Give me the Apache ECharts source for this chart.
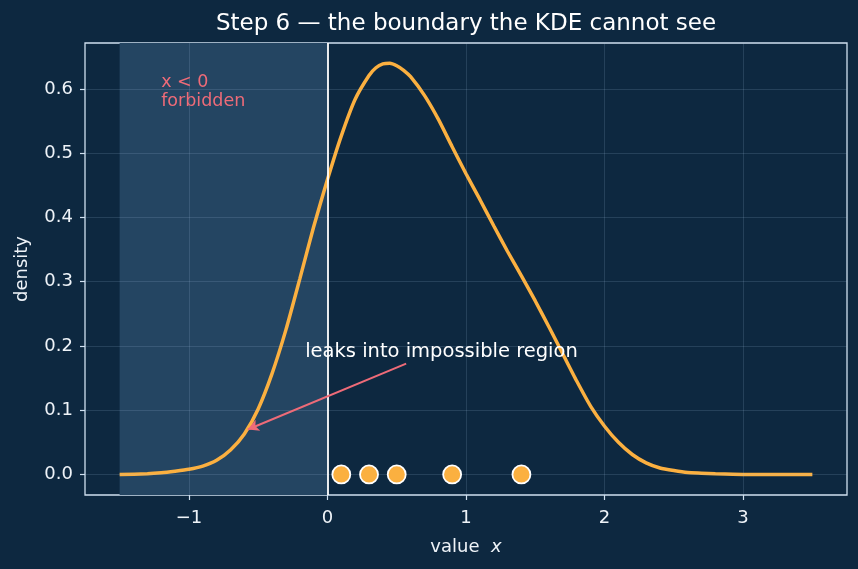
<!DOCTYPE html>
<html>
<head>
<meta charset="utf-8">
<script src="https://cdn.jsdelivr.net/npm/echarts@6/dist/echarts.min.js"></script>
<style>
  html, body { margin: 0; padding: 0; background: #0d2840; }
  #chart { width: 858px; height: 569px; }
</style>
</head>
<body>
<div id="chart"></div>
<script>
// KDE curve
const kdeX = [-1.5, -1.3, -1.2, -1.1, -1.0, -0.9, -0.8, -0.7, -0.6, -0.5, -0.4, -0.3, -0.2, -0.1,
  0.0, 0.1, 0.2, 0.3, 0.35, 0.4, 0.45, 0.5, 0.55, 0.6, 0.7, 0.8, 0.9, 1.0, 1.1, 1.2, 1.3, 1.4, 1.5, 1.6, 1.7,
  1.8, 1.9, 2.0, 2.1, 2.2, 2.3, 2.4, 2.5, 2.6, 2.7, 2.8, 3.0, 3.5]
const kdeY = [0.000, 0.001, 0.0025, 0.005, 0.008, 0.013, 0.022, 0.038, 0.063, 0.102, 0.157, 0.225, 0.304, 0.385,
  0.459, 0.527, 0.584, 0.621, 0.633, 0.639, 0.640, 0.636, 0.629, 0.619, 0.590, 0.553, 0.510, 0.468, 0.428, 0.387, 0.347, 0.309, 0.270, 0.229, 0.187,
  0.145, 0.106, 0.075, 0.050, 0.031, 0.018, 0.010, 0.006, 0.003, 0.002, 0.001, 0.000, 0.000]

const samples = [0.1, 0.3, 0.5, 0.9, 1.4]

const xTicks = [-1, 0, 1, 2, 3]
const yTicks = [0, 0.1, 0.2, 0.3, 0.4, 0.5, 0.6]

const forbiddenRange = [-1.5, 0]
const boundaryX = 0

const arrowFrom = [0.568, 0.1725]
const arrowTo = [-0.575, 0.07]
const leakLabelAt = [0.823, 0.191]
const forbiddenLabelAt = [-1.2, 0.596]

const FONT = 'DejaVu Sans, sans-serif'
const ORANGE = '#fbb040'
const SALMON = '#ee6b78'
const TEXT = '#eef3f8'
const FRAME = '#cfe0f0'
const GRID = 'rgba(170,200,230,0.16)'

const chart = echarts.init(document.getElementById('chart'), null, { renderer: 'canvas' })

const fmtMinus = (v) => String(v).replace('-', '\u2212')

const option = {
  animation: false,
  backgroundColor: '#0d2840',
  textStyle: { fontFamily: FONT },
  grid: {
    left: 85,
    right: 11,
    top: 43,
    bottom: 74,
    show: true,
    borderColor: FRAME,
    borderWidth: 1.3,
    backgroundColor: 'transparent',
  },
  graphic: [
    {
      type: 'text',
      x: 466,
      y: 24,
      style: {
        text: 'Step 6 \u2014 the boundary the KDE cannot see',
        fill: '#ffffff',
        font: '23px ' + FONT,
        align: 'center',
        verticalAlign: 'middle',
      },
    },
  ],
  xAxis: {
    type: 'value',
    min: -1.75,
    max: 3.75,
    name: '{a|value  }{b|x}',
    nameLocation: 'middle',
    nameGap: 43,
    nameTextStyle: {
      color: TEXT,
      rich: {
        a: { color: TEXT, fontSize: 18, fontFamily: FONT },
        b: { color: TEXT, fontSize: 18, fontFamily: FONT, fontStyle: 'italic' },
      },
    },
    axisLine: { show: false, onZero: false },
    axisTick: {
      show: true,
      length: 5,
      customValues: xTicks,
      lineStyle: { color: FRAME, width: 1.2 },
    },
    axisLabel: {
      customValues: xTicks,
      formatter: (v) => fmtMinus(v),
      color: TEXT,
      fontSize: 18,
      fontFamily: FONT,
      margin: 14,
    },
    splitLine: { show: false },
  },
  yAxis: {
    type: 'value',
    min: -0.032,
    max: 0.6715,
    name: 'density',
    nameLocation: 'middle',
    nameGap: 54,
    nameTextStyle: { color: TEXT, fontSize: 18, fontFamily: FONT },
    axisLine: { show: false, onZero: false },
    axisTick: {
      show: true,
      length: 5,
      customValues: yTicks,
      lineStyle: { color: FRAME, width: 1.2 },
    },
    axisLabel: {
      customValues: yTicks,
      formatter: (v) => v.toFixed(1),
      color: TEXT,
      fontSize: 18,
      fontFamily: FONT,
      margin: 12,
    },
    splitLine: { show: false },
  },
  series: [
    {
      // background layer: forbidden region and grid lines
      type: 'line',
      data: [],
      silent: true,
      z: 1,
      markArea: {
        silent: true,
        itemStyle: { color: '#244562' },
        data: [[{ xAxis: forbiddenRange[0] }, { xAxis: forbiddenRange[1] }]],
      },
      markLine: {
        silent: true,
        symbol: ['none', 'none'],
        label: { show: false },
        lineStyle: { color: GRID, width: 1, type: 'solid' },
        data: [
          ...xTicks.map((v) => ({ xAxis: v })),
          ...yTicks.map((v) => ({ yAxis: v })),
        ],
      },
    },
    {
      // boundary at x = 0
      type: 'line',
      data: [],
      silent: true,
      z: 3,
      markLine: {
        silent: true,
        symbol: ['none', 'none'],
        label: { show: false },
        lineStyle: { color: '#ffffff', width: 1.8, type: 'solid' },
        data: [{ xAxis: boundaryX }],
      },
    },
    {
      name: 'KDE',
      type: 'line',
      z: 4,
      data: kdeX.map((x, i) => [x, kdeY[i]]),
      showSymbol: false,
      smooth: 0.2,
      lineStyle: { color: ORANGE, width: 3.5 },
    },
    {
      name: 'samples',
      type: 'scatter',
      z: 5,
      data: samples.map((x) => [x, 0]),
      symbolSize: 18,
      itemStyle: { color: ORANGE, opacity: 1, borderColor: '#ffffff', borderWidth: 1.8 },
    },
    {
      // annotations
      type: 'line',
      data: [],
      silent: true,
      z: 6,
      markLine: {
        silent: true,
        symbol: ['none', 'arrow'],
        symbolSize: [9, 11],
        label: { show: false },
        lineStyle: { color: SALMON, width: 2, type: 'solid' },
        data: [[{ coord: arrowFrom }, { coord: arrowTo }]],
      },
      markPoint: {
        silent: true,
        symbol: 'circle',
        symbolSize: 0,
        data: [
          {
            coord: leakLabelAt,
            label: {
              show: true,
              position: [0, 0],
              align: 'center',
              verticalAlign: 'middle',
              formatter: 'leaks into impossible region',
              color: '#ffffff',
              fontSize: 19.5,
              fontFamily: FONT,
            },
          },
          {
            coord: forbiddenLabelAt,
            label: {
              show: true,
              position: [0, 0],
              align: 'left',
              verticalAlign: 'middle',
              formatter: 'x < 0\nforbidden',
              color: SALMON,
              fontSize: 17.5,
              lineHeight: 19,
              fontFamily: FONT,
            },
          },
        ],
      },
    },
  ],
}

chart.setOption(option)
</script>
</body>
</html>
